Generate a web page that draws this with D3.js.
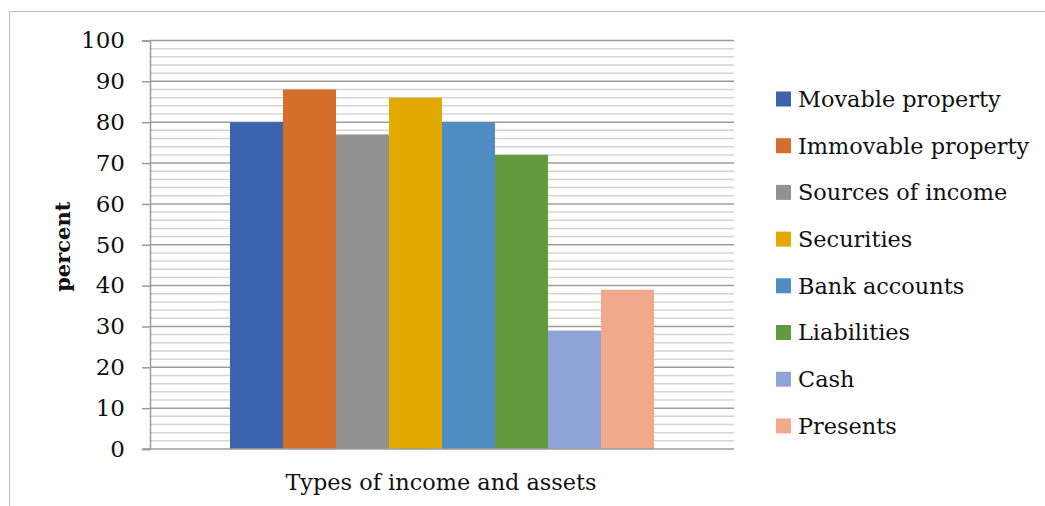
<!DOCTYPE html>
<html>
<head>
<meta charset="utf-8">
<script src="https://cdn.jsdelivr.net/npm/d3@7"></script>
<style>
  body { margin: 0; background: #fff; }
  text { font-family: "DejaVu Serif", serif; fill: #111; }
</style>
</head>
<body>
<div id="chart"></div>
<script>
// Data_____________________________________________
const categories = ["Movable property", "Immovable property", "Sources of income", "Securities",
                    "Bank accounts", "Liabilities", "Cash", "Presents"];
const values = [80, 88, 77, 86, 80, 72, 29, 39];
const colors = ["#3b64ad", "#d46f2b", "#929292", "#e2aa00", "#4f8cc1", "#629a3e", "#8fa4d6", "#f1a98b"];
const yTicks = [0, 10, 20, 30, 40, 50, 60, 70, 80, 90, 100];
const xLabel = "Types of income and assets";
const yLabel = "percent";

// Layout___________________________________________
const width = 1045, height = 506;
const plot = {left: 150, right: 734, top: 40.5, bottom: 449};
const fontSize = 22.4;

const svg = d3.select('#chart')
    .append('svg')
    .attr('width', width)
    .attr('height', height);

// outer frame
svg.append('rect')
    .attr('x', 9.5).attr('y', 11.5)
    .attr('width', 1100).attr('height', 600)
    .attr('fill', 'none')
    .attr('stroke', '#bdbdbd');

let yScale = d3.scaleLinear()
    .domain([0, 100])
    .range([plot.bottom, plot.top]);

// one group of bars inside the plot
let groupScale = d3.scaleBand()
    .domain([xLabel])
    .range([plot.left, plot.right])
    .paddingInner(0)
    .paddingOuter(0.1887);
let barScale = d3.scaleBand()
    .domain(categories)
    .range([groupScale(xLabel), groupScale(xLabel) + groupScale.bandwidth()]);

// Gridlines (minor every 2, major every 10)
let minor = d3.range(2, 101, 2).filter(v => v % 10 !== 0);
svg.append('g').selectAll('line')
    .data(minor)
    .enter()
    .append('line')
    .attr('x1', plot.left).attr('x2', plot.right)
    .attr('y1', d => yScale(d)).attr('y2', d => yScale(d))
    .attr('stroke', '#d4d4d4')
    .attr('stroke-width', 1.5);

svg.append('g').selectAll('line')
    .data(yTicks.filter(v => v > 0))
    .enter()
    .append('line')
    .attr('x1', plot.left).attr('x2', plot.right)
    .attr('y1', d => yScale(d)).attr('y2', d => yScale(d))
    .attr('stroke', '#9c9c9c')
    .attr('stroke-width', 1.5);

// Bars
svg.append('g').selectAll('rect')
    .data(values)
    .enter()
    .append('rect')
    .attr('x', (d, i) => barScale(categories[i]))
    .attr('y', d => yScale(d))
    .attr('width', barScale.bandwidth())
    .attr('height', d => yScale(0) - yScale(d))
    .attr('fill', (d, i) => colors[i]);

// Axes
const yAxis = d3.axisLeft(yScale)
    .tickValues(yTicks)
    .tickSize(8)
    .tickPadding(17);
let yAxisG = svg.append('g')
    .attr('transform', `translate(${plot.left}, 0)`)
    .call(yAxis);
yAxisG.select('.domain').attr('stroke', '#9c9c9c').attr('stroke-width', 1.5);
yAxisG.selectAll('.tick line').attr('stroke', '#9c9c9c').attr('stroke-width', 1.5);
yAxisG.selectAll('.tick text')
    .attr('font-size', 23)
    .attr('font-family', '"DejaVu Serif", serif')
    .attr('fill', '#111');

const xAxis = d3.axisBottom(groupScale).tickSize(0).tickFormat('');
let xAxisG = svg.append('g')
    .attr('transform', `translate(0, ${plot.bottom})`)
    .call(xAxis);
xAxisG.select('.domain').attr('stroke', '#9c9c9c').attr('stroke-width', 1.5)
    .attr('d', `M${plot.left - 8},0H${plot.right}`);

// Axis titles
svg.append('text')
    .attr('x', (plot.left + plot.right) / 2 - 1)
    .attr('y', 490)
    .attr('text-anchor', 'middle')
    .attr('font-size', fontSize)
    .text(xLabel);

svg.append('text')
    .attr('transform', `translate(70, ${(plot.top + plot.bottom) / 2 + 2}) rotate(-90)`)
    .attr('text-anchor', 'middle')
    .attr('font-size', 21)
    .attr('font-weight', 'bold')
    .text(yLabel);

// Legend
let legend = svg.append('g').selectAll('g')
    .data(categories)
    .enter()
    .append('g')
    .attr('transform', (d, i) => `translate(776, ${99 + i * 46.7})`);
legend.append('rect')
    .attr('x', 0).attr('y', -7.5)
    .attr('width', 15).attr('height', 15)
    .attr('fill', (d, i) => colors[i]);
legend.append('text')
    .attr('x', 22).attr('y', 0)
    .attr('dy', '0.35em')
    .attr('font-size', fontSize)
    .text(d => d);
</script>
</body>
</html>
